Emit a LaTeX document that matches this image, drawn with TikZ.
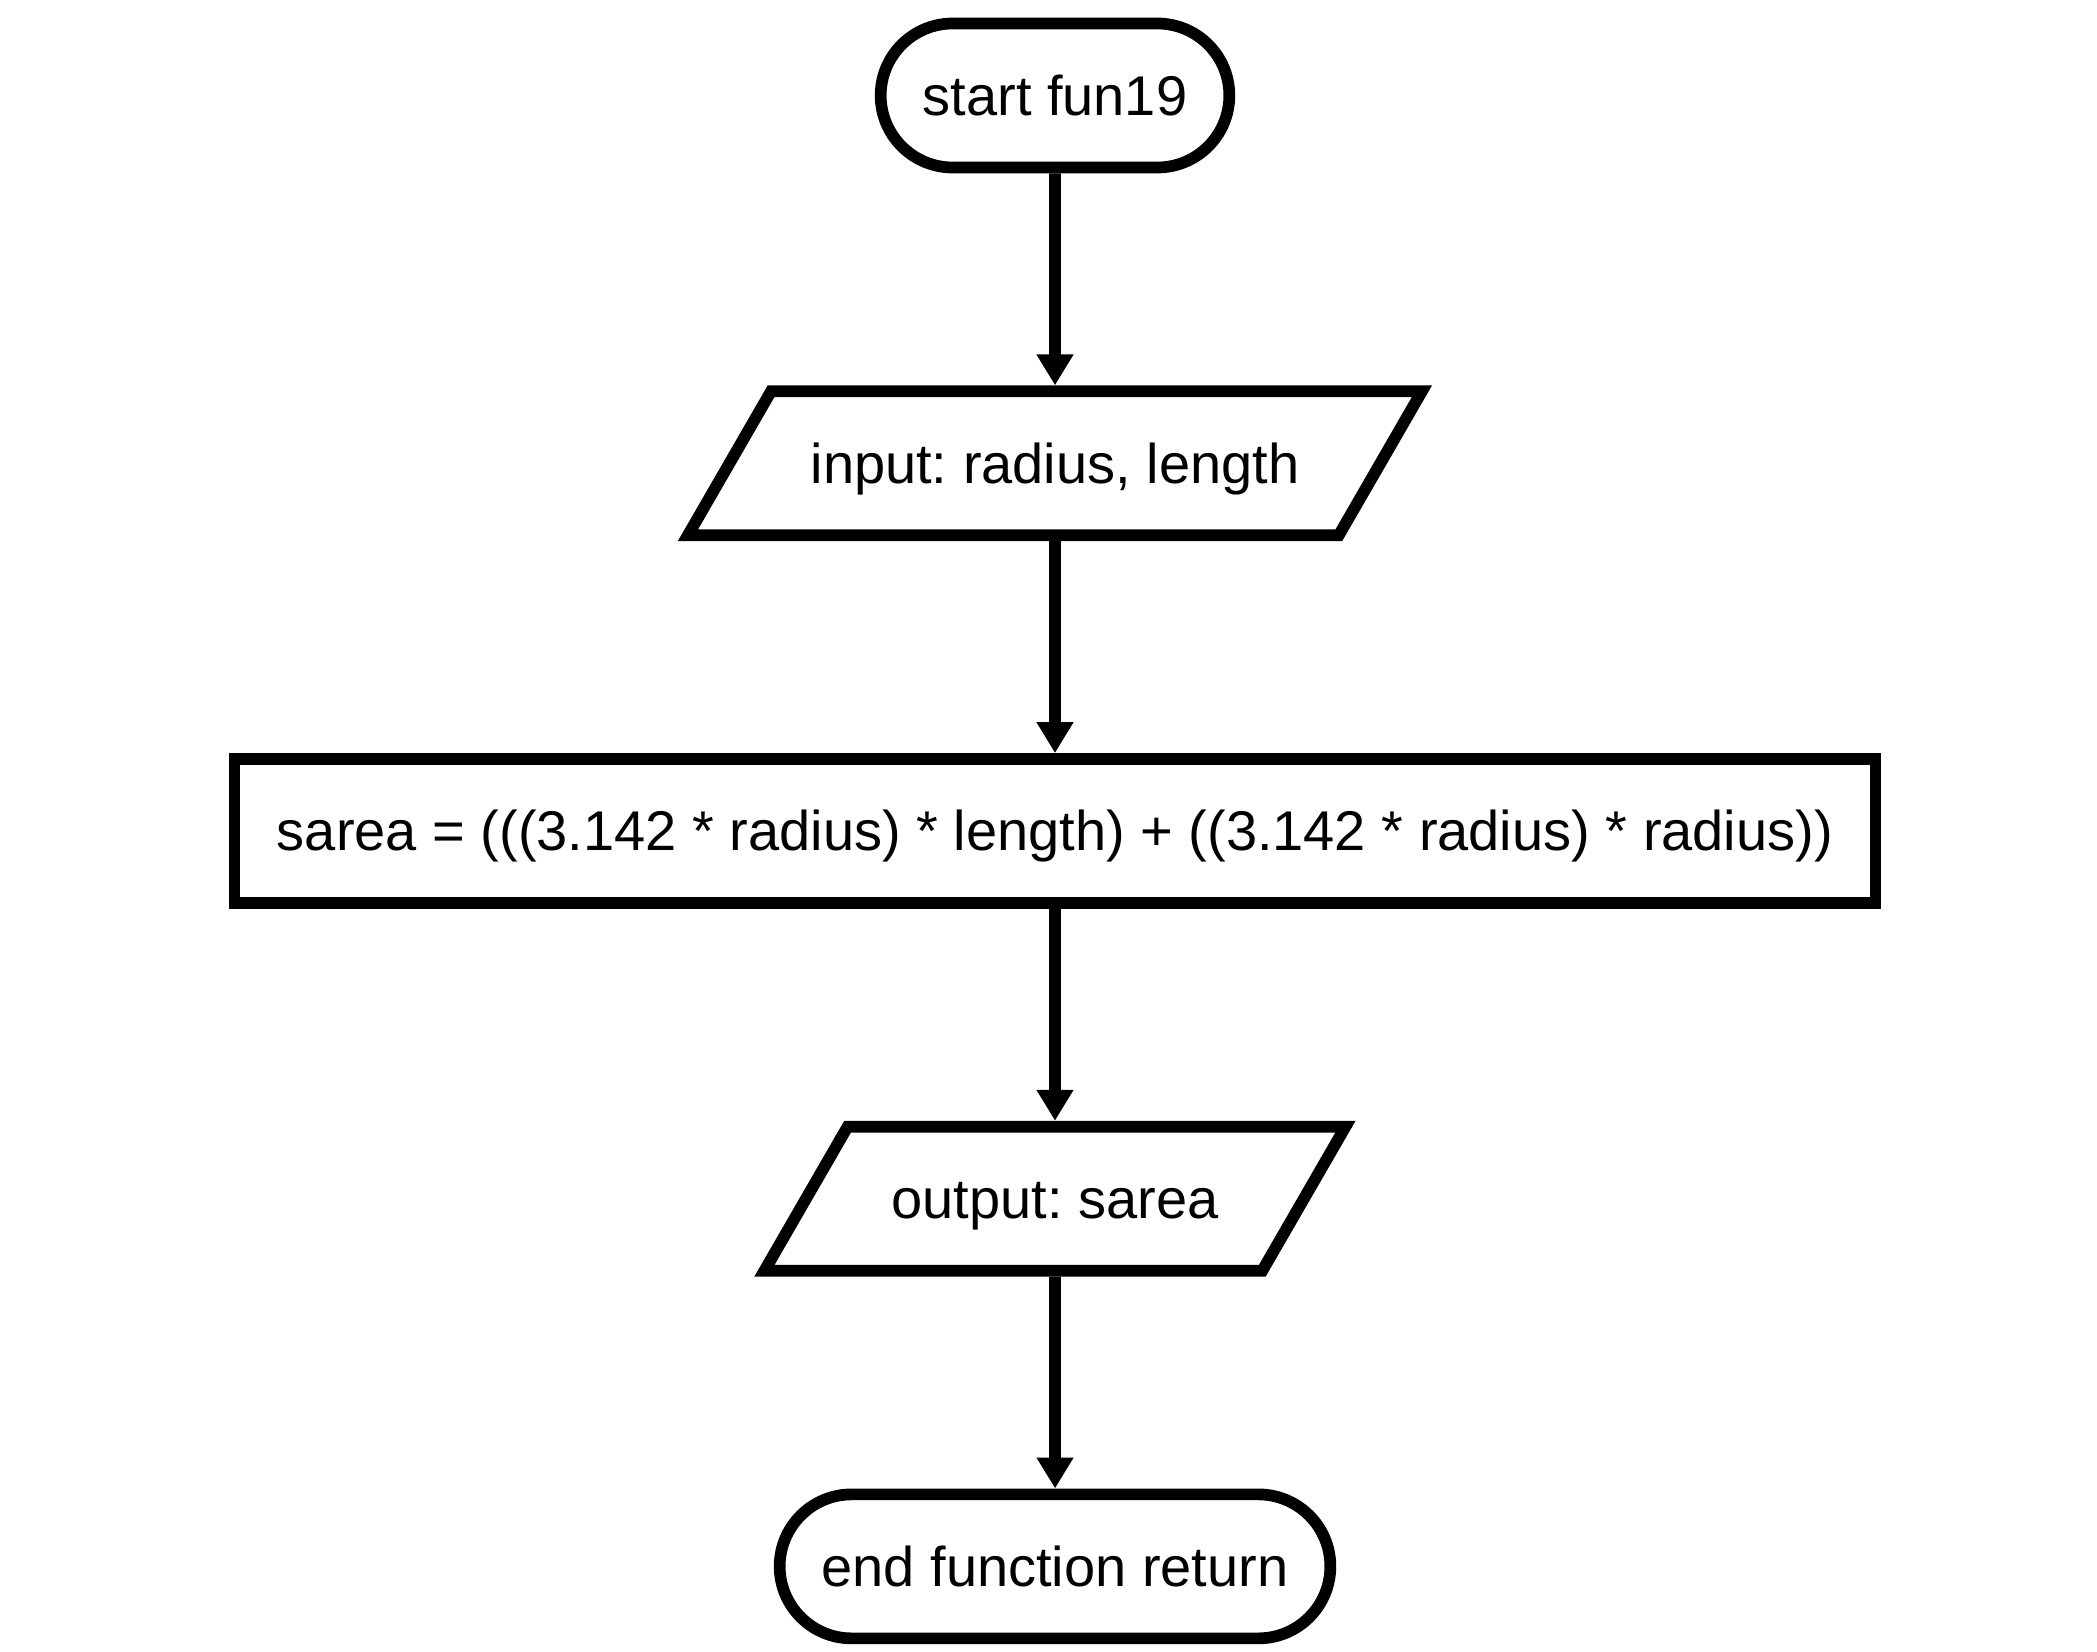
\documentclass[tikz,border=0pt]{standalone}
\usepackage{fontspec}
\setmainfont{Liberation Sans}
\usetikzlibrary{shapes.geometric, shapes.misc, arrows.meta, positioning}
\frenchspacing

\begin{document}
\begin{tikzpicture}[
    line width=5.85pt,
    node distance=106pt,
    chart/.style={draw,minimum height=72pt,text height=20pt,text depth=0pt,font=\fontsize{28pt}{34pt}\selectfont},
    terminal/.style={chart,rounded rectangle},
    io/.style={chart,trapezium,trapezium left angle=60,trapezium right angle=120,trapezium stretches body,inner ysep=26pt},
    process/.style={chart,rectangle},
    flowarrow/.style={-{Triangle[width=17.5pt,length=15.5pt]}}
]
    \useasboundingbox (0,0) rectangle (1048.5pt,-826pt);
    % Start
    \node[terminal,minimum width=181pt] (start) at (527.5pt,-47.75pt) {start fun19};
    % Input
    \node[io,minimum width=367pt,below=of start] (input) {input: radius, length};
    % Calcolo
    \node[process,minimum width=820.5pt,below=of input] (calc) {sarea = (((3.142 * radius) * length) + ((3.142 * radius) * radius))};
    % Output
    \node[io,minimum width=290.5pt,below=of calc] (output) {output: sarea};
    % End
    \node[terminal,minimum width=282pt,below=of output] (end) {end function return};

    \draw[flowarrow] (start) -- (input);
    \draw[flowarrow] (input) -- (calc);
    \draw[flowarrow] (calc) -- (output);
    \draw[flowarrow] (output) -- (end);
\end{tikzpicture}
\end{document}
